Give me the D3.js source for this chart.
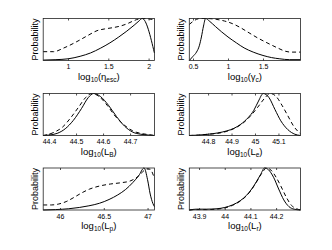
<!DOCTYPE html>
<html>
<head>
<meta charset="utf-8">
<script src="https://cdn.jsdelivr.net/npm/d3@7"></script>
<style>
  body { margin: 0; background: #fff; }
  text { font-family: "Liberation Sans", Arial, sans-serif; fill: #000; }
</style>
</head>
<body>
<div id="plot"></div>
<script>
const CANVAS_WIDTH  = 332;
const CANVAS_HEIGHT = 250;
const COL_LEFT = [43.2, 189.3];
const ROW_TOP  = [18.5, 93.5, 168];
const BOX_W = 111.2;
const BOX_H = 42;

// eta_esc
const etaDomain = [0.692, 2.072];
const etaTicks  = [1, 1.5, 2];
const etaSolidX = [0.692, 0.85, 1.0, 1.15, 1.28, 1.4, 1.52, 1.63, 1.73, 1.82, 1.88, 1.92, 2.072];
const etaSolidY = [0.01, 0.02, 0.04, 0.1, 0.18, 0.29, 0.42, 0.56, 0.7, 0.84, 0.94, 1.0, 0.18];
const etaDashX  = [0.692, 0.82, 0.95, 1.1, 1.25, 1.36, 1.45, 1.55, 1.65, 1.74, 1.82, 1.88, 1.93, 2.072];
const etaDashY  = [0.21, 0.21, 0.3, 0.44, 0.6, 0.71, 0.75, 0.78, 0.82, 0.88, 0.95, 0.99, 1.0, 0.97];

// gamma_c
const gamDomain = [0.447, 2.036];
const gamTicks  = [0.5, 1, 1.5];
const gamSolidX = [0.447, 0.5, 0.55, 0.59, 0.62, 0.65, 0.68, 0.74, 0.82, 0.91, 1.0, 1.12, 1.23, 1.36, 1.5, 1.62, 1.74, 1.88, 2.036];
const gamSolidY = [0.0, 0.1, 0.2, 0.35, 0.56, 0.82, 1.0, 0.93, 0.81, 0.68, 0.56, 0.42, 0.3, 0.2, 0.12, 0.07, 0.04, 0.02, 0.02];
const gamDashX  = [0.447, 0.5, 0.55, 0.6, 0.7, 0.83, 0.95, 1.06, 1.17, 1.28, 1.4, 1.5, 1.62, 1.72, 1.82, 1.9, 2.036];
const gamDashY  = [0.86, 0.93, 0.98, 1.0, 1.0, 0.98, 0.94, 0.88, 0.79, 0.68, 0.56, 0.47, 0.37, 0.29, 0.22, 0.2, 0.2];

// L_B
const lbDomain = [44.3785, 44.79];
const lbTicks  = [44.4, 44.5, 44.6, 44.7];
const lbSolidX = [44.3785, 44.4, 44.43, 44.46, 44.49, 44.52, 44.545, 44.565, 44.59, 44.62, 44.65, 44.68, 44.71, 44.74, 44.77, 44.79];
const lbSolidY = [0.0, 0.01, 0.05, 0.16, 0.36, 0.64, 0.9, 1.0, 0.93, 0.72, 0.45, 0.22, 0.08, 0.03, 0.01, 0.0];
const lbDashX  = [44.3785, 44.4, 44.42, 44.45, 44.48, 44.51, 44.535, 44.558, 44.585, 44.615, 44.645, 44.68, 44.71, 44.74, 44.77, 44.79];
const lbDashY  = [0.0, 0.03, 0.08, 0.2, 0.42, 0.68, 0.9, 1.0, 0.93, 0.72, 0.46, 0.24, 0.11, 0.05, 0.02, 0.0];

// L_e
const leDomain = [44.72, 45.194];
const leTicks  = [44.8, 44.9, 45, 45.1];
const leSolidX = [44.72, 44.76, 44.8, 44.84, 44.88, 44.91, 44.94, 44.97, 44.995, 45.015, 45.035, 45.06, 45.085, 45.11, 45.14, 45.17, 45.194];
const leSolidY = [0.0, 0.01, 0.03, 0.06, 0.11, 0.17, 0.27, 0.42, 0.6, 0.82, 1.0, 0.9, 0.62, 0.35, 0.14, 0.03, 0.0];
const leDashX  = [44.72, 44.76, 44.8, 44.84, 44.88, 44.92, 44.95, 44.98, 45.01, 45.04, 45.065, 45.09, 45.115, 45.14, 45.165, 45.194];
const leDashY  = [0.0, 0.01, 0.03, 0.05, 0.1, 0.19, 0.3, 0.46, 0.66, 0.88, 1.0, 0.93, 0.72, 0.47, 0.22, 0.04];

// L_p
const lpDomain = [45.808, 47.078];
const lpTicks  = [46, 46.5, 47];
const lpSolidX = [45.808, 45.95, 46.1, 46.22, 46.33, 46.45, 46.56, 46.66, 46.75, 46.83, 46.9, 46.96, 47.0, 47.03, 47.06, 47.078];
const lpSolidY = [0.0, 0.01, 0.03, 0.06, 0.1, 0.16, 0.25, 0.36, 0.49, 0.65, 0.82, 1.0, 0.72, 0.38, 0.16, 0.08];
const lpDashX  = [45.808, 45.9, 45.98, 46.07, 46.16, 46.25, 46.34, 46.45, 46.58, 46.7, 46.8, 46.88, 46.94, 46.99, 47.03, 47.06, 47.078];
const lpDashY  = [0.12, 0.12, 0.14, 0.2, 0.3, 0.41, 0.5, 0.57, 0.62, 0.65, 0.69, 0.78, 0.9, 0.98, 0.97, 0.86, 0.75];

// L_r
const lrDomain = [43.862, 44.295];
const lrTicks  = [43.9, 44, 44.1, 44.2];
const lrSolidX = [43.862, 43.89, 43.93, 43.97, 44.0, 44.03, 44.06, 44.085, 44.105, 44.125, 44.14, 44.155, 44.17, 44.19, 44.21, 44.23, 44.25, 44.27, 44.295];
const lrSolidY = [0.0, 0.02, 0.02, 0.03, 0.06, 0.12, 0.22, 0.35, 0.5, 0.69, 0.85, 1.0, 0.96, 0.78, 0.5, 0.24, 0.08, 0.02, 0.0];
const lrDashX  = [43.862, 43.89, 43.93, 43.97, 44.0, 44.03, 44.06, 44.085, 44.105, 44.125, 44.145, 44.163, 44.18, 44.2, 44.22, 44.24, 44.26, 44.28, 44.295];
const lrDashY  = [0.0, 0.01, 0.01, 0.02, 0.05, 0.11, 0.21, 0.34, 0.49, 0.68, 0.88, 1.0, 0.95, 0.78, 0.55, 0.3, 0.11, 0.03, 0.0];

const xLabelBase = ["(\u03b7", "(\u03b3", "(L", "(L", "(L", "(L"];
const xLabelSub  = ["esc", "c", "B", "e", "p", "r"];

function zip(xs, ys) {
    return xs.map(function(x, i) { return [x, ys[i]]; });
}

var panelTable = [
    { domain: etaDomain, ticks: etaTicks, solid: zip(etaSolidX, etaSolidY), dash: zip(etaDashX, etaDashY) },
    { domain: gamDomain, ticks: gamTicks, solid: zip(gamSolidX, gamSolidY), dash: zip(gamDashX, gamDashY) },
    { domain: lbDomain,  ticks: lbTicks,  solid: zip(lbSolidX, lbSolidY),   dash: zip(lbDashX, lbDashY) },
    { domain: leDomain,  ticks: leTicks,  solid: zip(leSolidX, leSolidY),   dash: zip(leDashX, leDashY) },
    { domain: lpDomain,  ticks: lpTicks,  solid: zip(lpSolidX, lpSolidY),   dash: zip(lpDashX, lpDashY) },
    { domain: lrDomain,  ticks: lrTicks,  solid: zip(lrSolidX, lrSolidY),   dash: zip(lrDashX, lrDashY) }
];

var svg = d3.select("#plot")
    .append("svg")
    .attr("width", CANVAS_WIDTH)
    .attr("height", CANVAS_HEIGHT);

panelTable.forEach(function(p, i) {
    var left = COL_LEFT[i % 2];
    var top  = ROW_TOP[Math.floor(i / 2)];

    var xScale = d3.scaleLinear().domain(p.domain).range([left, left + BOX_W]);
    var yScale = d3.scaleLinear().domain([0, 1]).range([top + BOX_H, top]);

    var line = d3.line()
        .x(function(d) { return xScale(d[0]); })
        .y(function(d) { return yScale(d[1]); })
        .curve(d3.curveMonotoneX);

    var g = svg.append("g");

    g.append("path")
        .attr("d", line(p.dash))
        .attr("fill", "none")
        .attr("stroke", "#000")
        .attr("stroke-width", 1)
        .attr("stroke-dasharray", "4,3");

    g.append("path")
        .attr("d", line(p.solid))
        .attr("fill", "none")
        .attr("stroke", "#000")
        .attr("stroke-width", 1);

    // box
    g.append("rect")
        .attr("x", left)
        .attr("y", top)
        .attr("width", BOX_W)
        .attr("height", BOX_H)
        .attr("fill", "none")
        .attr("stroke", "#222")
        .attr("stroke-width", 0.8);

    // ticks inside, top and bottom
    var bottomAxis = d3.axisBottom(xScale).tickValues(p.ticks).tickSize(-2)
        .tickFormat(d3.format("~g"));
    var topAxis = d3.axisTop(xScale).tickValues(p.ticks).tickSize(-2).tickFormat("");

    var ab = g.append("g")
        .attr("transform", "translate(0," + (top + BOX_H) + ")")
        .call(bottomAxis);
    var at = g.append("g")
        .attr("transform", "translate(0," + top + ")")
        .call(topAxis);

    [ab, at].forEach(function(a) {
        a.select(".domain").remove();
        a.selectAll(".tick line").attr("stroke", "#222").attr("stroke-width", 0.8);
    });
    ab.selectAll(".tick text")
        .attr("font-size", "7px")
        .attr("font-family", "Liberation Sans, Arial, sans-serif")
        .attr("fill", "#000")
        .attr("y", 4)
        .attr("dy", "0.71em");

    // x label
    var xl = g.append("text")
        .attr("x", left + BOX_W / 2)
        .attr("y", top + BOX_H + 19)
        .attr("text-anchor", "middle")
        .attr("font-size", "9.5px");
    xl.append("tspan").text("log");
    xl.append("tspan").attr("font-size", "6.5px").attr("dy", 2).text("10");
    xl.append("tspan").attr("dy", -2).text(xLabelBase[i]);
    xl.append("tspan").attr("font-size", "6.5px").attr("dy", 2).text(xLabelSub[i]);
    xl.append("tspan").attr("dy", -2).text(")");

    // y label
    g.append("text")
        .attr("transform", "translate(" + (left - 8) + "," + (top + BOX_H / 2) + ") rotate(-90)")
        .attr("text-anchor", "middle")
        .attr("dy", "0.35em")
        .attr("font-size", "9px")
        .text("Probability");
});
</script>
</body>
</html>
